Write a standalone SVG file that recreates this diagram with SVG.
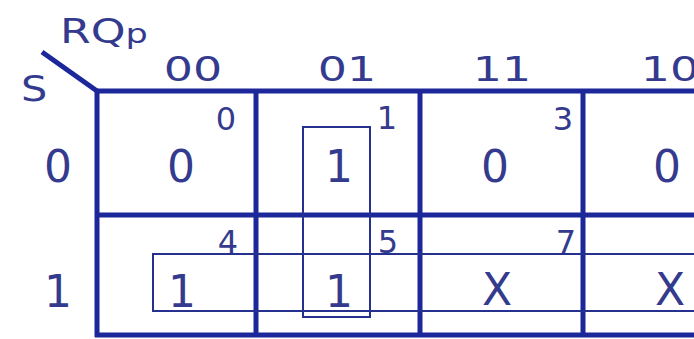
<svg xmlns="http://www.w3.org/2000/svg" width="694" height="339" viewBox="0 0 694 339">
<style>
.g{stroke:#1c279a;stroke-width:5;fill:none}
.grp{stroke:#25308f;stroke-width:2;fill:none}
text{font-family:"DejaVu Sans",Verdana,sans-serif;fill:#343b8e}
.v{font-size:44px;text-anchor:middle}
.i{font-size:32px;text-anchor:end}
.h{font-size:34px;text-anchor:middle}
</style>
<rect width="694" height="339" fill="#ffffff"/>
<g id="grid">
<line class="g" x1="42" y1="52" x2="97" y2="91" stroke-width="4"/>
<line class="g" x1="95" y1="91" x2="700" y2="91"/>
<line class="g" x1="97" y1="89" x2="97" y2="337"/>
<line class="g" x1="95" y1="215" x2="700" y2="215"/>
<line class="g" x1="95" y1="335" x2="700" y2="335"/>
<line class="g" x1="256" y1="89" x2="256" y2="337"/>
<line class="g" x1="420" y1="89" x2="420" y2="337"/>
<line class="g" x1="583" y1="89" x2="583" y2="337"/>
</g>
<g id="labels">
<text x="0" y="0" font-size="34" transform="translate(60,43) scale(1.3,1)">RQ<tspan font-size="27">p</tspan></text>
<text x="0" y="0" font-size="36" transform="translate(21,101) scale(1.15,1)">S</text>
<text class="h" transform="translate(193,81) scale(1.35,1)">00</text>
<text class="h" transform="translate(347,81) scale(1.35,1)">01</text>
<text class="h" transform="translate(502,81) scale(1.35,1)">11</text>
<text class="h" transform="translate(670,81) scale(1.35,1)">10</text>
<text class="v" x="58" y="182">0</text>
<text class="v" x="58" y="307">1</text>
</g>
<g id="cell0"><text class="i" x="236" y="130">0</text><text class="v" x="181" y="182">0</text></g>
<g id="cell1"><text class="i" x="397" y="129">1</text><text class="v" x="339" y="182">1</text></g>
<g id="cell3"><text class="i" x="573" y="130">3</text><text class="v" x="495" y="182">0</text></g>
<g id="cell2"><text class="v" x="667" y="182">0</text></g>
<g id="cell4"><text class="i" x="238" y="253">4</text><text class="v" x="182" y="307">1</text></g>
<g id="cell5"><text class="i" x="398" y="253">5</text><text class="v" x="339" y="307">1</text></g>
<g id="cell7"><text class="i" x="576" y="253">7</text><text class="v" x="497" y="305">X</text></g>
<g id="cell6"><text class="v" x="670" y="305">X</text></g>
<g id="groups">
<rect class="grp" x="303" y="127" width="67" height="190"/>
<rect class="grp" x="153" y="254" width="600" height="57"/>
</g>
</svg>
